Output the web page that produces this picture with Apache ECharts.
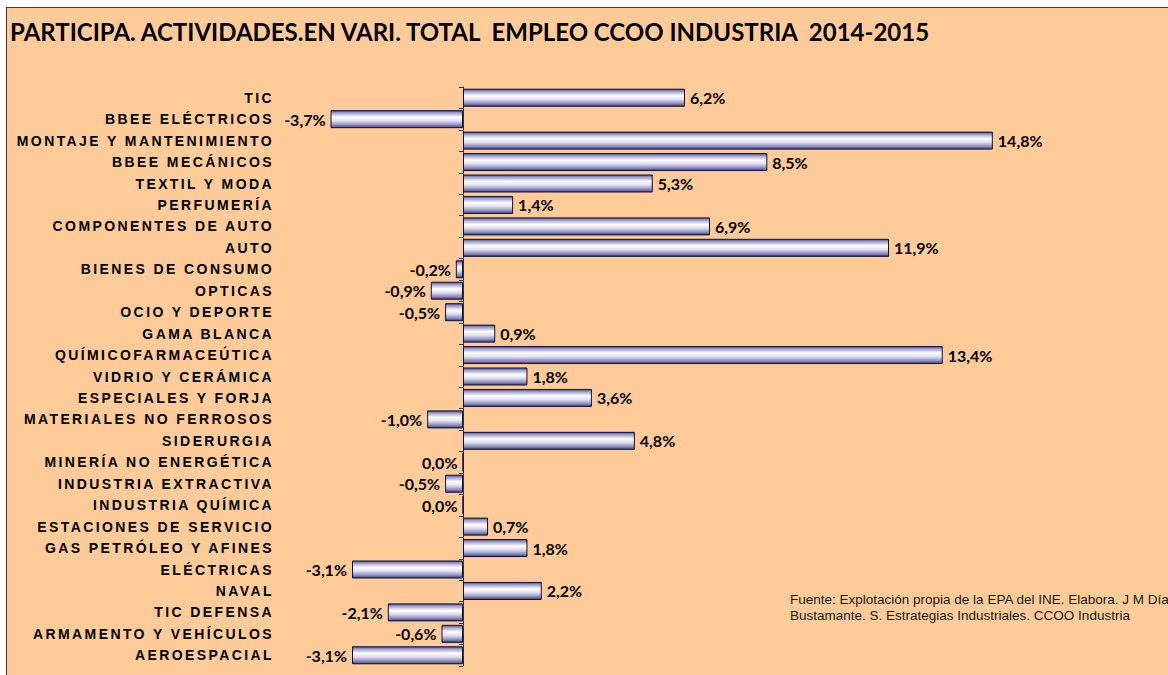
<!DOCTYPE html>
<html>
<head>
<meta charset="utf-8">
<title>Empleo CCOO Industria 2014-2015</title>
<script src="https://cdn.jsdelivr.net/npm/echarts@6/dist/echarts.min.js"></script>
<style>
	body { margin: 0; background: #fff; }
	#frame {
		position: absolute; left: 6px; top: 7px; width: 1200px; height: 700px;
		border: 1px solid #3a3a3a; background: #FFCC99;
	}
	#chart { position: absolute; left: 0; top: 0; width: 1168px; height: 675px; }
	/* etiquetas de categoria espaciadas como en el original */
	#chart text[style*="14px"][style*="Liberation"] { letter-spacing: 2.4px; }
</style>
</head>
<body>
<div id="frame"></div>
<div id="chart"></div>
<script>
	// datos
	var sectores = ['TIC', 'BBEE ELÉCTRICOS', 'MONTAJE Y MANTENIMIENTO', 'BBEE MECÁNICOS', 'TEXTIL Y MODA',
		'PERFUMERÍA', 'COMPONENTES DE AUTO', 'AUTO', 'BIENES DE CONSUMO', 'OPTICAS', 'OCIO Y DEPORTE',
		'GAMA BLANCA', 'QUÍMICOFARMACEÚTICA', 'VIDRIO Y CERÁMICA', 'ESPECIALES Y FORJA',
		'MATERIALES NO FERROSOS', 'SIDERURGIA', 'MINERÍA NO ENERGÉTICA', 'INDUSTRIA EXTRACTIVA',
		'INDUSTRIA QUÍMICA', 'ESTACIONES DE SERVICIO', 'GAS PETRÓLEO Y AFINES', 'ELÉCTRICAS', 'NAVAL',
		'TIC DEFENSA', 'ARMAMENTO Y VEHÍCULOS', 'AEROESPACIAL'];
	var variacion = [6.2, -3.7, 14.8, 8.5, 5.3, 1.4, 6.9, 11.9, -0.2, -0.9, -0.5, 0.9, 13.4, 1.8, 3.6,
		-1.0, 4.8, 0.0, -0.5, 0.0, 0.7, 1.8, -3.1, 2.2, -2.1, -0.6, -3.1];

	var titulo = 'PARTICIPA. ACTIVIDADES.EN VARI. TOTAL  EMPLEO CCOO INDUSTRIA  2014-2015';
	var fuente = 'Fuente: Explotación propia de la EPA del INE. Elabora. J M Día\nBustamante. S. Estrategias Industriales. CCOO Industria';

	var chart = echarts.init(document.getElementById('chart'), null, { renderer: 'svg' });

	var barras = variacion.map(function (v) {
		return {
			value: v,
			label: { position: v > 0 ? 'right' : 'left' }
		};
	});

	chart.setOption({
		animation: false,
		title: [{
			text: titulo,
			left: 10,
			top: 19,
			padding: 0,
			textStyle: { fontFamily: 'Lato', fontWeight: 'bold', fontSize: 24, color: '#000' }
		}, {
			text: fuente,
			left: 790,
			top: 591,
			padding: 0,
			textStyle: { fontFamily: 'Liberation Sans', fontWeight: 'normal', fontSize: 13.5, lineHeight: 16, color: '#1a1a1a' }
		}],
		grid: {
			left: 284,
			right: 60.6,
			top: 87,
			bottom: 9,
			containLabel: false,
			outerBoundsMode: 'none'
		},
		xAxis: {
			type: 'value',
			min: -5,
			max: 18,
			show: false
		},
		yAxis: {
			type: 'category',
			inverse: true,
			data: sectores,
			axisLine: { onZero: true, lineStyle: { color: '#333', width: 1 } },
			axisTick: { show: true, length: 4, lineStyle: { color: '#333' } },
			axisLabel: {
				margin: 10,
				fontFamily: 'Liberation Sans',
				fontWeight: 'bold',
				fontSize: 14,
				color: '#000'
			}
		},
		series: [{
			type: 'bar',
			data: barras,
			barCategoryGap: '16%',
			itemStyle: {
				borderColor: '#101038',
				borderWidth: 1,
				color: new echarts.graphic.LinearGradient(0, 0, 0, 1, [
					{ offset: 0, color: '#484888' },
					{ offset: 0.12, color: '#9898c8' },
					{ offset: 0.38, color: '#ffffff' },
					{ offset: 0.6, color: '#dedef2' },
					{ offset: 0.85, color: '#8a8abc' },
					{ offset: 1, color: '#3c3c7c' }
				])
			},
			label: {
				show: true,
				distance: 5,
				fontFamily: 'Lato',
				fontWeight: 'bold',
				fontSize: 16,
				color: '#000',
				formatter: function (p) {
					return p.value.toFixed(1).replace('.', ',') + '%';
				}
			}
		}]
	});
</script>
</body>
</html>
